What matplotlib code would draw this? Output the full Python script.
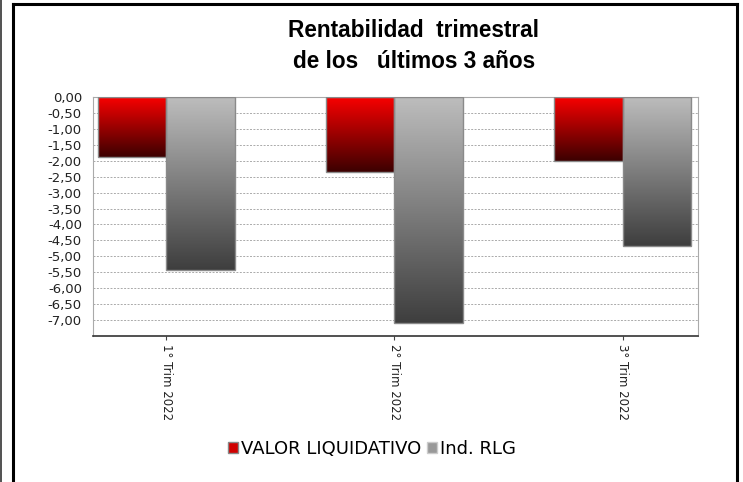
import numpy as np
import matplotlib
matplotlib.use("Agg")
import matplotlib.pyplot as plt
from matplotlib.colors import LinearSegmentedColormap
from matplotlib.patches import Rectangle
from matplotlib.lines import Line2D
from matplotlib.ticker import FuncFormatter

categories = ["1° Trim 2022", "2° Trim 2022", "3° Trim 2022"]
valor_liquidativo = [-1.88, -2.35, -2.00]
ind_rlg = [-5.42, -7.08, -4.69]
series_names = ["VALOR LIQUIDATIVO", "Ind. RLG"]
title = "Rentabilidad  trimestral\nde los   últimos 3 años"

fig = plt.figure(figsize=(7.43, 4.82), dpi=100)
ax = fig.add_axes([93/743, 1-336/482, (698-93)/743, (336-97)/482])

red_cmap = LinearSegmentedColormap.from_list("r", ["#f80000", "#3c0000"])
gray_cmap = LinearSegmentedColormap.from_list("g", ["#bdbdbd", "#3e3e3e"])

x = np.arange(len(categories))
w = 0.3
grad = np.linspace(0, 1, 256).reshape(-1, 1)
for vals, off, cmap in [(valor_liquidativo, -w/2, red_cmap), (ind_rlg, w/2, gray_cmap)]:
    bars = ax.bar(x + off, vals, width=w, facecolor="none", edgecolor="#8a8a8a", linewidth=1.0, zorder=3)
    for b, v in zip(bars, vals):
        x0 = b.get_x()
        ax.imshow(grad, extent=[x0, x0 + w, v, 0], aspect="auto", cmap=cmap, zorder=2,
                  interpolation="bilinear", origin="upper")

ax.set_xlim(-0.32, 2.33)
ax.set_ylim(-7.5, 0)
ax.set_yticks(np.arange(0, -7.01, -0.5))
ax.yaxis.set_major_formatter(FuncFormatter(lambda v, p: f"{v:.2f}".replace(".", ",").replace("-0,00", "0,00")))
ax.tick_params(axis="y", length=0, labelsize=9.5, colors="#222222", pad=8)
ax.set_xticks(x)
ax.set_xticklabels(categories, rotation=270, fontsize=8.5, color="#222222", va="top", ha="center")
ax.tick_params(axis="x", length=3, direction="out", pad=3, color="#444444")
ax.grid(axis="y", color="#aaaaaa", linestyle=(0, (2, 1.5)), linewidth=0.7, zorder=1)
ax.set_axisbelow(True)
for s in ["left", "top", "right"]:
    ax.spines[s].set_color("#aaaaaa")
ax.spines["bottom"].set_color("#333333")
ax.spines["bottom"].set_linewidth(1.2)

handles = [Rectangle((0, 0), 1, 1, facecolor="#d00000", edgecolor="#888888"),
           Rectangle((0, 0), 1, 1, facecolor="#999999", edgecolor="#cccccc")]
fig.legend(handles, series_names, loc="center", bbox_to_anchor=(372/743, 1-449/482), ncol=2,
           frameon=False, fontsize=13, handlelength=0.55, handleheight=0.55,
           handletextpad=0.2, columnspacing=0.3)

fig.text(414/743, 1-46/482, title, ha="center", va="center", fontsize=16.3, fontweight="bold",
         family="Liberation Sans", linespacing=1.45)

# outer frame
fig.add_artist(Line2D([13/743, 13/743], [0, 1-3.5/482], color="black", linewidth=2.2, transform=fig.transFigure))
fig.add_artist(Line2D([737/743, 737/743], [0, 1-3.5/482], color="black", linewidth=2.2, transform=fig.transFigure))
fig.add_artist(Line2D([13/743, 737/743], [1-3.5/482, 1-3.5/482], color="black", linewidth=2.2, transform=fig.transFigure))
fig.add_artist(Line2D([0.5/743, 0.5/743], [0, 1], color="#333333", linewidth=1.2, transform=fig.transFigure))

fig.savefig("out.png", dpi=100)
